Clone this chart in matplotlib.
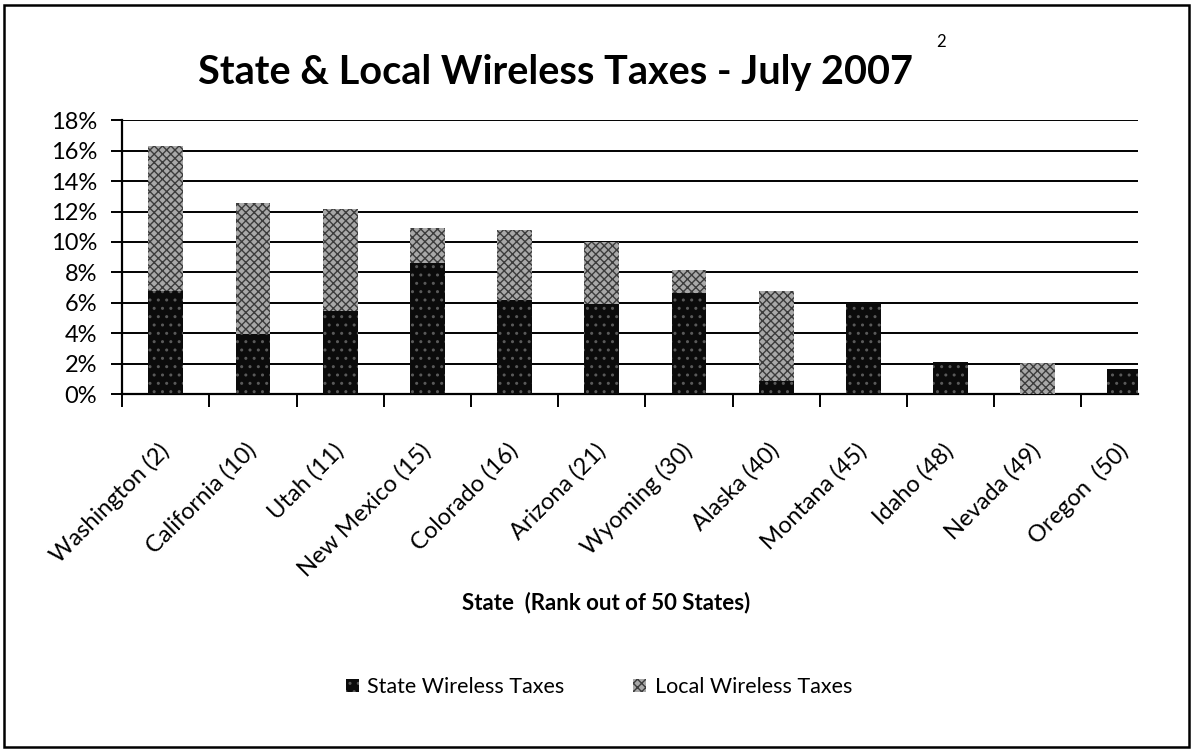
"""
State & local wireless taxes, July 2007 - stacked bar chart redraw.
"""
import matplotlib

matplotlib.use("Agg")
import matplotlib.pyplot as plt  # noqa: E402
from matplotlib.patches import Patch, Rectangle  # noqa: E402
from matplotlib.ticker import FixedLocator, FuncFormatter  # noqa: E402

# ---- data (percent) ---------------------------------------------------------
states = [
    "Washington (2)", "California (10)", "Utah (11)", "New Mexico (15)",
    "Colorado (16)", "Arizona (21)", "Wyoming (30)", "Alaska (40)",
    "Montana (45)", "Idaho (48)", "Nevada (49)", "Oregon  (50)",
]
state_tax = [6.8, 3.95, 5.5, 8.6, 6.2, 5.95, 6.65, 0.9, 6.0, 2.1, 0.0, 1.65]
local_tax = [9.5, 8.6, 6.65, 2.35, 4.6, 4.05, 1.5, 5.85, 0.0, 0.0, 2.03, 0.0]
y_ticks = [0, 2, 4, 6, 8, 10, 12, 14, 16, 18]

plt.rcParams["font.family"] = ["Lato", "DejaVu Sans"]
plt.rcParams["hatch.linewidth"] = 1.0

fig = plt.figure(figsize=(11.93, 7.5), dpi=100)
ax = fig.add_axes([0.1025, 0.4743, 0.8514, 0.3655])

pos = list(range(len(states)))
ax.bar(pos, state_tax, width=0.40, color="#0b0b0b", edgecolor="#5a5a5a",
       hatch="..", lw=0, zorder=3, label="State Wireless Taxes")
ax.bar(pos, local_tax, bottom=state_tax, width=0.40, color="#a8a8a8",
       edgecolor="#3c3c3c", hatch="xxxx", lw=0, zorder=3,
       label="Local Wireless Taxes")

ax.set_xlim(-0.5, 11.15)
ax.set_ylim(0, 18)
ax.set_yticks(y_ticks)
ax.yaxis.set_major_formatter(FuncFormatter(lambda v, _: f"{v:.0f}%"))
ax.yaxis.grid(True, color="black", lw=1.4)
ax.set_axisbelow(True)

# Excel style: tick marks on category boundaries, labels under bar centres
ax.xaxis.set_major_locator(FixedLocator([p - 0.5 for p in pos]))
ax.xaxis.set_major_formatter(FuncFormatter(lambda v, _: ""))
ax.xaxis.set_minor_locator(FixedLocator(pos))
ax.set_xticklabels(states, minor=True, rotation=45, ha="right",
                   va="center", rotation_mode="anchor", fontsize=17)
ax.tick_params(axis="x", which="minor", length=0, pad=38)
ax.tick_params(axis="x", which="major", length=9, width=1.4, direction="out")
ax.tick_params(axis="y", length=8, width=1.4, labelsize=17, pad=10)

for side in ("top", "right"):
    ax.spines[side].set_visible(False)
for side in ("left", "bottom"):
    ax.spines[side].set_linewidth(1.6)

ax.set_xlabel("State  (Rank out of 50 States)", fontsize=16, fontweight="bold")
ax.xaxis.set_label_coords(0.476, -0.72)

fig.text(0.466, 0.903, "State & Local Wireless Taxes - July 2007",
         ha="center", va="center", fontsize=28.5, fontweight="bold")
fig.text(0.789, 0.944, "2", ha="center", va="center", fontsize=12)

handles = [Patch(facecolor="#0b0b0b", edgecolor="#5a5a5a", hatch="..", lw=0),
           Patch(facecolor="#a8a8a8", edgecolor="#3c3c3c", hatch="xxxx", lw=0)]
fig.legend(handles, ["State Wireless Taxes", "Local Wireless Taxes"],
           loc="center", bbox_to_anchor=(0.502, 0.084), ncol=2, frameon=False,
           fontsize=15.5, handlelength=0.6, handleheight=0.6, handletextpad=0.4,
           columnspacing=3.2)

fig.add_artist(Rectangle((0.003, 0.004), 0.994, 0.989, transform=fig.transFigure,
                         fill=False, edgecolor="black", lw=1.8))

fig.savefig("out.png", dpi=100)
